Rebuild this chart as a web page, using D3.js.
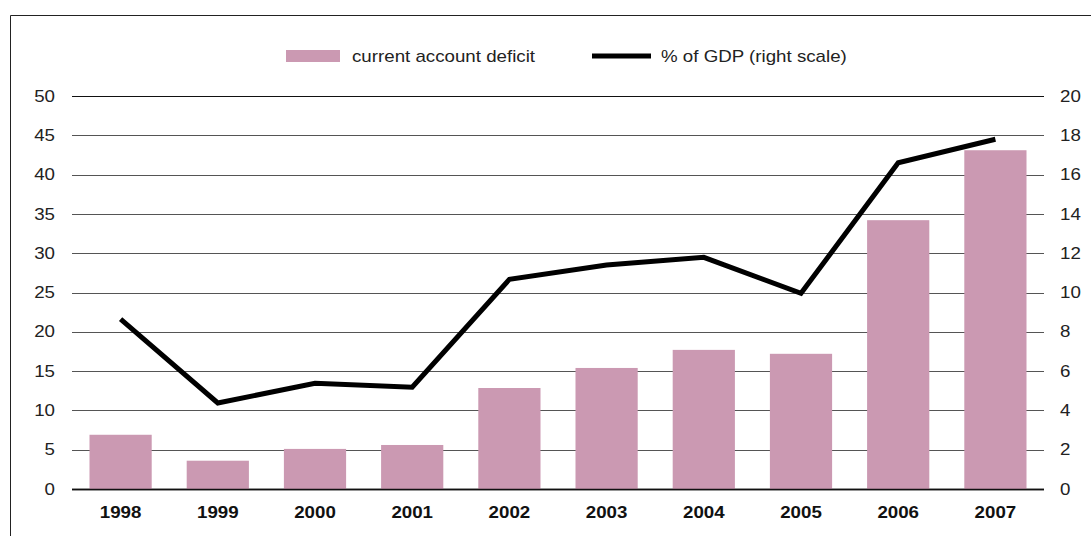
<!DOCTYPE html>
<html>
<head>
<meta charset="utf-8">
<script src="https://cdn.jsdelivr.net/npm/d3@7"></script>
<style>
  html, body { margin: 0; padding: 0; background: #fff; }
  svg { display: block; font-family: "Liberation Sans", Arial, Helvetica, sans-serif; }
</style>
</head>
<body>
<svg id="chart" width="1091" height="536"></svg>
<script>
// Current account deficit (left axis) and its share of GDP (right axis)
const years = ["1998", "1999", "2000", "2001", "2002", "2003", "2004", "2005", "2006", "2007"];
const deficit = [6.9, 3.6, 5.1, 5.6, 12.85, 15.4, 17.7, 17.2, 34.2, 43.1];
const pctGdp = [8.65, 4.38, 5.38, 5.18, 10.67, 11.4, 11.79, 9.96, 16.6, 17.8];
const leftTicks = [0, 5, 10, 15, 20, 25, 30, 35, 40, 45, 50];
const rightTicks = [0, 2, 4, 6, 8, 10, 12, 14, 16, 18, 20];
const legendLabels = ["current account deficit", "% of GDP (right scale)"];

const svg = d3.select("#chart");
const plot = { left: 72, right: 1044, top: 96, bottom: 489 };
const barColor = "#cb99b2";
const stretch = "scale(1.17,1)";

// frame on the left and top edges
svg.append("path")
  .attr("d", "M10.5,536 V15.5 H1091")
  .attr("fill", "none").attr("stroke", "#222").attr("stroke-width", 1);

const x = d3.scaleBand().domain(years).range([plot.left, plot.right]).paddingInner(0.36).paddingOuter(0.18);
const yL = d3.scaleLinear().domain([0, 50]).range([plot.bottom, plot.top]);
const yR = d3.scaleLinear().domain([0, 20]).range([plot.bottom, plot.top]);

// gridlines
svg.append("g").selectAll("line").data(leftTicks).join("line")
  .attr("x1", plot.left).attr("x2", plot.right)
  .attr("y1", d => Math.round(yL(d)) + 0.5).attr("y2", d => Math.round(yL(d)) + 0.5)
  .attr("stroke", d => (d === 0 || d === 50) ? "#111" : "#555")
  .attr("stroke-width", d => d === 0 ? 1.4 : 1);

// left axis labels
const leftAxis = d3.axisLeft(yL).tickValues(leftTicks).tickSize(0).tickPadding(0).tickFormat(d3.format("d"));
svg.append("g").attr("transform", "translate(55,0)").call(leftAxis)
  .call(g => g.select(".domain").remove())
  .call(g => g.selectAll("text").attr("font-size", 16).attr("fill", "#222")
    .attr("font-family", null).attr("transform", stretch));

// right axis labels
const rightAxis = d3.axisRight(yR).tickValues(rightTicks).tickSize(0).tickPadding(0).tickFormat(d3.format("d"));
svg.append("g").attr("transform", "translate(1060,0)").call(rightAxis)
  .call(g => g.select(".domain").remove())
  .call(g => g.selectAll("text").attr("font-size", 16).attr("fill", "#222")
    .attr("font-family", null).attr("transform", stretch));

// bars
svg.append("g").selectAll("rect").data(years).join("rect")
  .attr("x", d => x(d))
  .attr("width", x.bandwidth())
  .attr("y", (d, i) => yL(deficit[i]))
  .attr("height", (d, i) => yL(0) - yL(deficit[i]))
  .attr("fill", barColor);

// redraw zero baseline on top of bars
svg.append("line")
  .attr("x1", plot.left).attr("x2", plot.right)
  .attr("y1", Math.round(yL(0)) + 0.5).attr("y2", Math.round(yL(0)) + 0.5)
  .attr("stroke", "#111").attr("stroke-width", 1.4);

// x axis labels
const xAxis = d3.axisBottom(x).tickSize(0).tickPadding(0);
svg.append("g").attr("transform", `translate(0,${plot.bottom + 18})`).call(xAxis)
  .call(g => g.select(".domain").remove())
  .call(g => g.selectAll("text").attr("font-size", 16).attr("font-weight", "bold")
    .attr("fill", "#111").attr("font-family", null).attr("transform", stretch));

// % of GDP line
const line = d3.line()
  .x((d, i) => x(years[i]) + x.bandwidth() / 2)
  .y(d => yR(d));
svg.append("path").datum(pctGdp)
  .attr("d", line)
  .attr("fill", "none").attr("stroke", "#000").attr("stroke-width", 5)
  .attr("stroke-linejoin", "miter");

// legend
const legend = svg.append("g");
legend.append("rect").attr("x", 286).attr("y", 50).attr("width", 54).attr("height", 12).attr("fill", barColor);
legend.append("text").attr("font-size", 16).attr("fill", "#222")
  .attr("transform", `translate(352,62) ${stretch}`).text(legendLabels[0]);
legend.append("line").attr("x1", 592).attr("x2", 651).attr("y1", 56).attr("y2", 56)
  .attr("stroke", "#000").attr("stroke-width", 5);
legend.append("text").attr("font-size", 16).attr("fill", "#222")
  .attr("transform", `translate(661,62) ${stretch}`).text(legendLabels[1]);
</script>
</body>
</html>
